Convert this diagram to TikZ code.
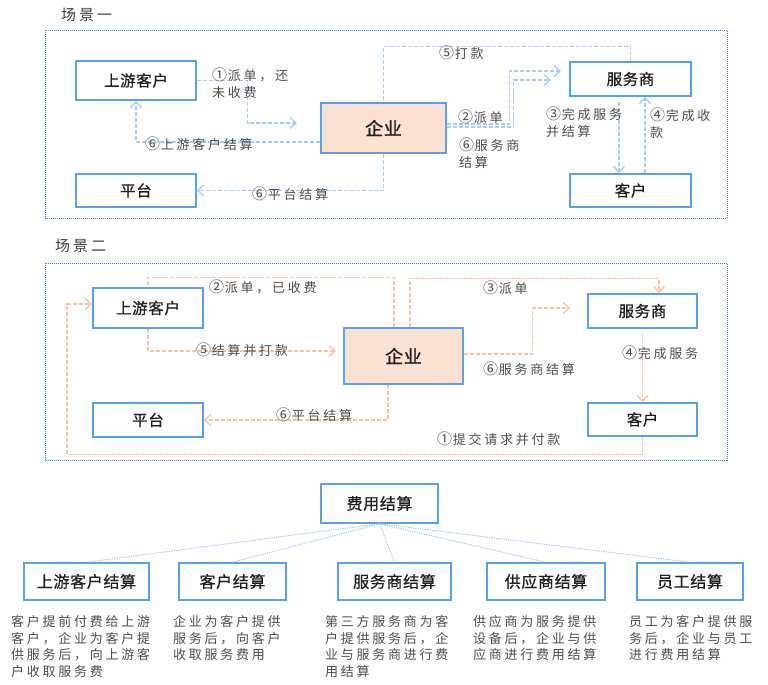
\documentclass[tikz,border=0pt]{standalone}
\usepackage{fontspec}
\setmainfont{Noto Sans CJK SC}
\newfontfamily\lsfont[LetterSpace=21]{Noto Sans CJK SC}
\newfontfamily\ttlfont[LetterSpace=20]{Noto Sans CJK SC}
\newfontfamily\boxfont[LetterSpace=4,FakeBold=0.6]{Noto Sans CJK SC}
\newfontfamily\entfont[LetterSpace=4,FakeBold=1.2]{Noto Sans CJK SC}
\newcommand\cnum[1]{\raisebox{-0.3pt}{\scalebox{1.15}{#1}}\hspace{0.8pt}}
\usetikzlibrary{arrows.meta}
\definecolor{boxblue}{HTML}{55A3F0}
\definecolor{framebl}{HTML}{4D86C6}
\definecolor{linebl}{HTML}{AACDF0}
\definecolor{lineor}{HTML}{F7C3A3}
\definecolor{peach}{HTML}{FAE1D2}
\definecolor{labgray}{HTML}{4D4D4D}
\definecolor{treebl}{HTML}{9CC3EE}
\begin{document}
\begin{tikzpicture}[x=1pt,y=-1pt,
  box/.style={draw=boxblue,line width=1.6pt,fill=white,inner sep=0pt,text=black!88,font=\boxfont\fontsize{15.5}{18}\selectfont},
  entbox/.style={box,fill=peach,font=\entfont\fontsize{18}{20}\selectfont},
  bbox/.style={box,font=\boxfont\fontsize{16}{18}\selectfont},
  frame/.style={draw=framebl,line width=0.9pt,dash pattern=on 1pt off 1pt},
  tip/.style={-{Straight Barb[length=6pt,width=11pt]}},
  bl/.style={draw=linebl,line width=1.3pt,dash pattern=on 4pt off 2pt},
  orl/.style={draw=lineor,line width=1.3pt,dash pattern=on 4pt off 2pt},
  lab/.style={text=labgray,font=\lsfont\fontsize{13}{17}\selectfont,inner sep=0pt,align=left},
  ttl/.style={text=black!75,font=\ttlfont\fontsize{15}{18}\selectfont,inner sep=0pt,anchor=west},
  desc/.style={text=labgray,font=\lsfont\fontsize{13}{16.4}\selectfont,inner sep=0pt,align=left,anchor=north west},
  tree/.style={draw=treebl,line width=1pt,dash pattern=on 1.2pt off 1.2pt}]
\useasboundingbox[fill=white] (0,0) rectangle (768,685);

% ---------------- Scene 1 ----------------
\node[ttl] (t1) at (61,15) {场景一};
\draw[frame] (45,30) rectangle (727,218);

\node[box,minimum width=120pt,minimum height=39pt] (up1) at (136,80.5) {上游客户};
\node[box,minimum width=120pt,minimum height=33pt] (plat1) at (136,190.5) {平台};
\node[entbox,minimum width=125pt,minimum height=50pt] (ent1) at (383.5,128) {企业};
\node[box,minimum width=121pt,minimum height=34pt] (svc1) at (630.5,79) {服务商};
\node[box,minimum width=121pt,minimum height=33pt] (cust1) at (630.5,190.5) {客户};

\coordinate (a1) at (297,123);
\coordinate (a2) at (561,71);
\coordinate (a6) at (551,80);

\draw[bl,tip] (up1.east) -- ++(51,0) |- (a1);
\draw[bl,tip] ([yshift=-14pt]ent1.west) -| (up1.south);
\draw[bl,tip] (ent1.south) |- (plat1.east);
\draw[bl] (svc1.north) -- ++(0,-15) -| (ent1.north);
\draw[bl,tip] ([yshift=4pt]ent1.east) -- ++(63,0) |- (a2);
\draw[bl,tip] ([yshift=1pt]ent1.east) -- ++(67,0) |- (a6);
\draw[bl,tip] ([xshift=-11.5pt,yshift=-5pt]svc1.south) -- ([xshift=-11.5pt]cust1.north);
\draw[bl,tip] ([xshift=14.5pt]cust1.north) -- ([xshift=14.5pt]svc1.south);

\node[lab,anchor=north west] (l11) at (212,67.6) {\cnum{①}派单，还\\未收费};
\node[lab,anchor=west] (l12) at (145,144) {\cnum{⑥}上游客户结算};
\node[lab,anchor=west] (l13) at (252,194) {\cnum{⑥}平台结算};
\node[lab,anchor=west] (l14) at (439,53) {\cnum{⑤}打款};
\node[lab,anchor=west] (l15) at (458,117) {\cnum{②}派单};
\node[lab,anchor=north west] (l16) at (459,137.6) {\cnum{⑥}服务商\\结算};
\node[lab,anchor=north west] (l17) at (546,106.6) {\cnum{③}完成服务\\并结算};
\node[lab,anchor=north west] (l18) at (650,107.6) {\cnum{④}完成收\\款};

% ---------------- Scene 2 ----------------
\node[ttl] (t2) at (55,246) {场景二};
\draw[frame] (45,263) rectangle (727,460);

\node[box,minimum width=110pt,minimum height=40pt] (up2) at (148,308) {上游客户};
\node[box,minimum width=110pt,minimum height=34pt] (plat2) at (148,420) {平台};
\node[entbox,minimum width=119pt,minimum height=56pt] (ent2) at (403.5,356) {企业};
\node[box,minimum width=109pt,minimum height=34pt] (svc2) at (642.5,311) {服务商};
\node[box,minimum width=109pt,minimum height=33pt] (cust2) at (642.5,419.5) {客户};

\coordinate (b5) at (336,351);
\coordinate (b6) at (570,308);
\coordinate (bc) at (67,304);

\draw[orl] ([xshift=-9.5pt]ent2.north) -- ++(0,-50) -| (up2.north);
\draw[orl,tip] (up2.south) |- (b5);
\draw[orl,tip] ([xshift=6.5pt]ent2.north) -- ++(0,-49) -| ([xshift=16.5pt]svc2.north);
\draw[orl,tip] ([yshift=2pt]ent2.east) -- ++(69,0) |- (b6);
\draw[orl,tip] ([xshift=-15.5pt]ent2.south) |- (plat2.east);
\draw[orl,tip] ([yshift=-4pt]svc2.south) -- (cust2.north);
\draw[orl,tip] (cust2.south) -- ++(0,18) -| (bc) -- ([yshift=4pt]up2.west);

\node[lab,anchor=west] (l21) at (209,287) {\cnum{②}派单，已收费};
\node[lab,anchor=west] (l22) at (196,350) {\cnum{⑤}结算并打款};
\node[lab,anchor=west] (l23) at (483,288) {\cnum{③}派单};
\node[lab,anchor=west] (l24) at (483,369) {\cnum{⑥}服务商结算};
\node[lab,anchor=west] (l25) at (276,415) {\cnum{⑥}平台结算};
\node[lab,anchor=west] (l26) at (622,353) {\cnum{④}完成服务};
\node[lab,anchor=west] (l27) at (437,439) {\cnum{①}提交请求并付款};

% ---------------- Tree ----------------
\node[bbox,minimum width=117pt,minimum height=39pt] (fee) at (379.5,503.5) {费用结算};
\node[bbox,minimum width=125pt,minimum height=37pt] (c1) at (86.5,581.5) {上游客户结算};
\node[bbox,minimum width=107pt,minimum height=37pt] (c2) at (232.5,581.5) {客户结算};
\node[bbox,minimum width=113pt,minimum height=37pt] (c3) at (394.5,581.5) {服务商结算};
\node[bbox,minimum width=118pt,minimum height=37pt] (c4) at (546,581.5) {供应商结算};
\node[bbox,minimum width=106pt,minimum height=37pt] (c5) at (690,581.5) {员工结算};

\foreach \c in {c1,c2,c3,c4,c5} \draw[tree] (fee.south) -- (\c.north);

\node[desc] (d1) at (11,615.6) {客户提前付费给上游\\客户，企业为客户提\\供服务后，向上游客\\户收取服务费};
\node[desc] (d2) at (173,615.6) {企业为客户提供\\服务后，向客户\\收取服务费用};
\node[desc] (d3) at (325,615.6) {第三方服务商为客\\户提供服务后，企\\业与服务商进行费\\用结算};
\node[desc] (d4) at (473,615.6) {供应商为服务提供\\设备后，企业与供\\应商进行费用结算};
\node[desc] (d5) at (629,615.6) {员工为客户提供服\\务后，企业与员工\\进行费用结算};
\end{tikzpicture}
\end{document}
